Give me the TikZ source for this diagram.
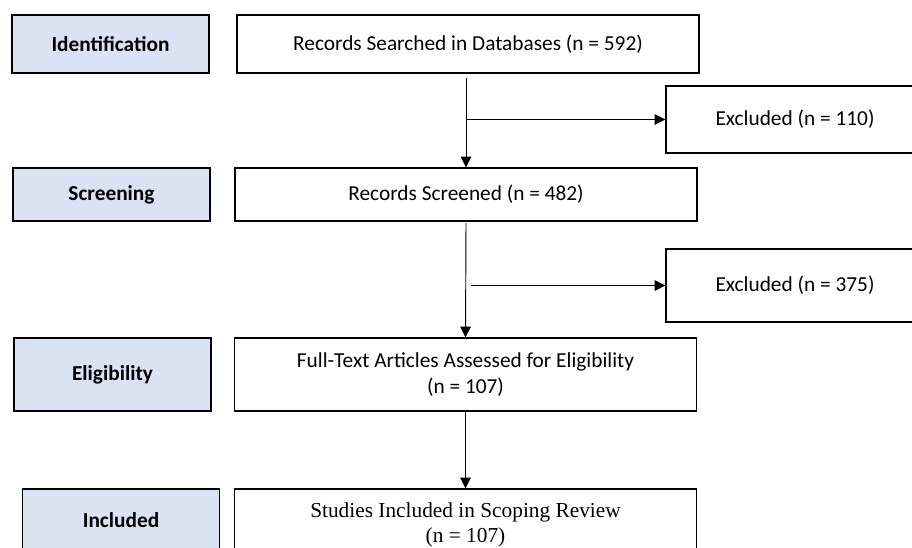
\documentclass[tikz,border=0pt]{standalone}
\usepackage{fontspec}
\setmainfont{Carlito}
\newfontfamily\timesfont{Liberation Serif}
\usetikzlibrary{
    arrows.meta,
    calc
}
\definecolor{stageblue}{HTML}{DAE3F3}
\tikzset {
    box/.style = {draw, line width = 1.1pt, inner sep = 0pt, align = center,
        font = \fontsize{16}{19.5}\selectfont},
    stage/.style = {box, fill = stageblue, minimum width = 147.75pt,
        font = \fontsize{16}{19.5}\selectfont\bfseries},
    record/.style = {box, fill = white, minimum width = 346.5pt},
    excluded/.style = {box, fill = white, minimum width = 193.5pt},
    flow/.style = {line width = 0.7pt,
        arrows = {-Triangle[length = 8pt, width = 8pt]}}
}
\begin{document}
\begin{tikzpicture}[x = 0.75pt, y = -0.75pt]
            \useasboundingbox (0, 0) rectangle (912, 547);
            \clip (0, 0) rectangle (912, 547);
            % stages
            \node (ident) [stage, minimum height = 43.5pt] at (110.5, 44) {Identification};
            \node (screen) [stage, minimum height = 39.75pt] at (111.5, 194.5) {Screening};
            \node (elig) [stage, minimum height = 54.75pt] at (112.5, 374.5) {Eligibility};
            \node (incl) [stage, minimum height = 46.5pt] at (121, 520) {Included};
            % records
            \node (srch) [record, minimum height = 43.5pt] at (468, 44)
                {Records Searched in Databases (n = 592)};
            \node (scrd) [record, minimum height = 39.75pt] at (466, 194.5)
                {Records Screened (n = 482)};
            \node (full) [record, minimum height = 54.75pt] at (465.5, 374.5)
                {Full-Text Articles Assessed for Eligibility\\(n = 107)};
            \node (incd) [record, minimum height = 53.25pt, font = \timesfont\fontsize{16}{18.75}\selectfont]
                at (465.5, 524.5) {Studies Included in Scoping Review\\(n = 107)};
            % excluded
            \node (exc1) [excluded, minimum height = 50.25pt] at (795, 119.5) {Excluded (n = 110)};
            \node (exc2) [excluded, minimum height = 54.75pt] at (795, 285.5) {Excluded (n = 375)};
            % connectors
            \coordinate (b1) at (scrd.north |- exc1.west);
            \coordinate (b2) at ($(scrd.south |- exc2.west) + (5, 0)$);
            \draw [flow, shorten < = 3pt] (scrd.north |- srch.south) -- (scrd.north);
            \draw [flow] (b1) -- (exc1.west);
            \draw [flow, shorten < = 1pt] (scrd.south) -- (full.north);
            \draw [flow] (b2) -- (exc2.west);
            \draw [flow] (full.south) -- (incd.north);
        \end{tikzpicture}
\end{document}
